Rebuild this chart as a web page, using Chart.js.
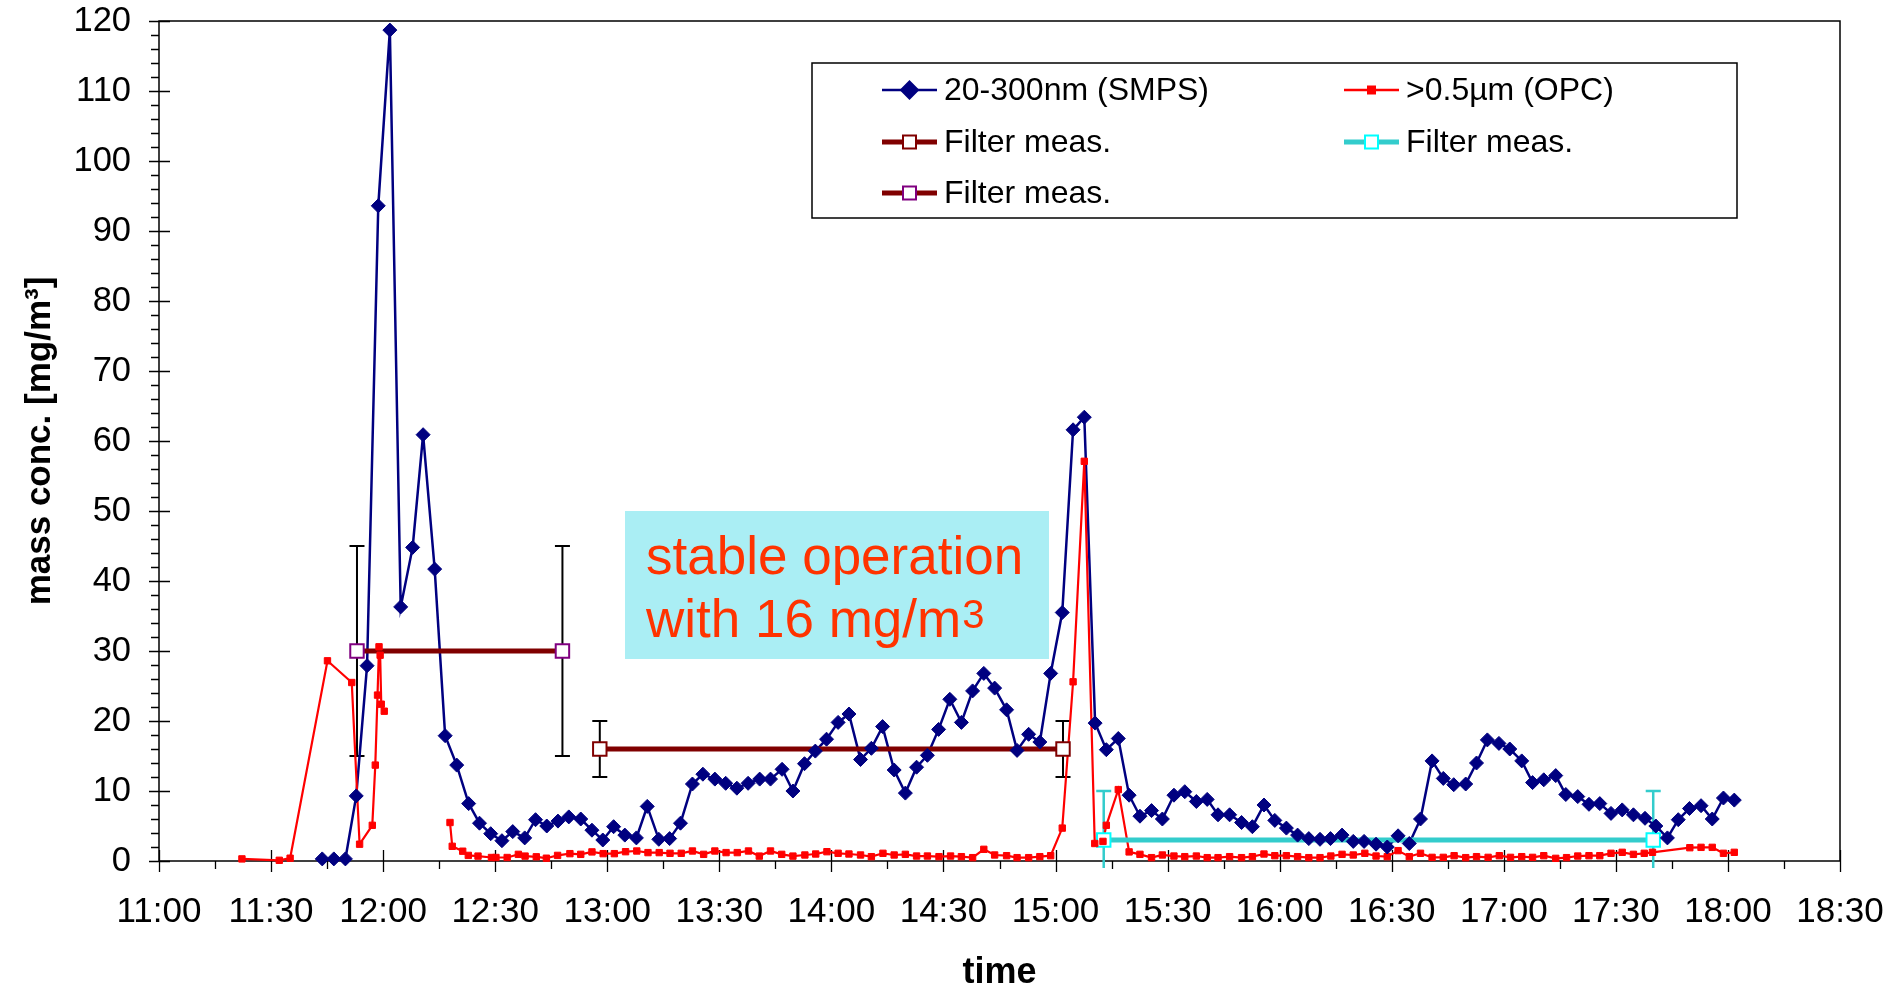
<!DOCTYPE html>
<html>
<head>
<meta charset="utf-8">
<script src="https://cdn.jsdelivr.net/npm/chart.js@4.4.0/dist/chart.umd.min.js"></script>
<style>
html,body{margin:0;padding:0;background:#fff;}
#wrap{width:1895px;height:991px;position:relative;}
</style>
</head>
<body>
<div id="wrap"><canvas id="c" width="1895" height="991"></canvas></div>
<script>
// ---------- data (times in minutes since midnight) ----------
const xTickLabels = ['11:00','11:30','12:00','12:30','13:00','13:30','14:00','14:30','15:00','15:30','16:00','16:30','17:00','17:30','18:00','18:30'];
const yTickLabels = ['0','10','20','30','40','50','60','70','80','90','100','110','120'];
const seriesLabels = ['20-300nm (SMPS)', '>0.5µm (OPC)', 'Filter meas.', 'Filter meas.', 'Filter meas.'];

const smpsTimes = [
  703.7,706.8,709.9,712.8,715.7,718.7,721.8,724.7,727.9,730.7,
  733.8,736.6,739.7,742.9,745.8,748.8,751.8,754.7,757.9,760.8,
  763.8,766.8,769.7,772.9,775.9,778.8,781.7,784.7,787.8,790.7,
  793.8,796.7,799.6,802.8,805.6,808.8,811.7,814.7,817.7,820.8,
  823.7,826.8,829.7,832.8,835.7,838.7,841.8,844.7,847.8,850.7,
  853.7,856.8,859.8,862.8,865.7,868.7,871.7,874.8,877.8,880.8,
  883.7,886.9,889.7,892.8,895.8,898.7,901.8,904.7,907.7,910.6,
  913.6,916.8,919.7,922.6,925.7,928.6,931.7,934.6,937.7,940.6,
  943.5,946.6,949.8,952.7,955.8,958.7,961.8,964.8,967.8,970.8,
  973.6,976.7,979.7,982.6,985.8,988.8,991.7,994.7,997.7,1000.8,
  1003.8,1006.6,1009.8,1012.7,1015.6,1018.7,1021.6,1024.8,1027.7,1030.7,
  1033.9,1036.6,1039.8,1042.8,1045.7,1048.7,1051.7,1054.7,1057.8,1060.7,
  1063.8,1066.7,1069.7,1072.8,1075.8,1078.8,1081.7
];
const smpsValues = [
  0.3,0.3,0.3,9.3,27.9,93.6,118.7,36.3,44.8,60.9,
  41.7,17.9,13.7,8.2,5.4,3.9,2.9,4.2,3.3,5.9,
  5.0,5.7,6.3,6.0,4.4,3.0,4.9,3.7,3.3,7.8,
  3.1,3.2,5.4,11.0,12.4,11.7,11.1,10.4,11.1,11.7,
  11.7,13.1,10.0,13.9,15.7,17.4,19.8,21.0,14.5,16.1,
  19.2,13.0,9.7,13.4,15.1,18.8,23.1,19.8,24.3,26.8,
  24.7,21.6,15.8,18.1,17.0,26.8,35.5,61.6,63.4,19.7,
  15.9,17.5,9.4,6.4,7.2,6.0,9.4,9.9,8.5,8.8,
  6.6,6.6,5.5,4.9,8.0,5.8,4.7,3.7,3.2,3.1,
  3.2,3.7,2.8,2.8,2.4,2.0,3.6,2.5,6.0,14.3,
  11.8,10.9,11.0,14.0,17.3,16.8,16.0,14.3,11.2,11.6,
  12.2,9.5,9.2,8.1,8.2,6.8,7.3,6.6,6.1,5.0,
  3.3,5.9,7.5,7.9,6.0,9.0,8.7
];

const opcTimes = [
  682.2,692.2,695.1,705.1,711.6,713.7,717.1,717.9,718.5,718.9,719.2,719.5,720.3,
  729.0,
  737.9,738.5,741.3,742.8,745.4,749.0,750.2,753.2,756.2,758.0,
  761.0,763.7,766.7,770.0,772.9,775.9,778.9,781.9,784.9,787.9,
  790.9,793.9,796.8,799.8,802.8,805.8,808.8,811.8,814.8,817.8,
  820.7,823.7,826.7,829.7,
  832.9,835.8,838.8,841.8,844.7,847.8,850.7,853.8,856.8,859.8,
  862.8,865.7,868.8,871.9,874.8,877.8,880.8,883.7,886.9,889.7,
  892.8,895.8,898.7,901.8,904.7,907.7,910.5,912.7,913.6,916.8,
  919.7,922.6,925.7,928.6,931.7,934.6,937.7,940.6,943.5,946.6,
  949.8,952.7,955.8,958.7,961.8,964.8,967.8,
  970.8,973.7,976.7,979.7,982.8,985.8,988.8,991.7,994.7,997.7,
  1000.8,1003.8,1006.7,1009.8,1012.7,1015.8,1018.8,1021.8,1024.8,1027.7,
  1030.7,1033.9,1036.8,1039.8,1042.8,1045.7,1048.7,1051.7,1054.7,1057.6,
  1059.8,1069.8,1072.8,1075.8,1078.8,1081.7
];
const opcValues = [
  0.3,0.1,0.4,28.6,25.5,2.4,5.1,13.7,23.7,30.6,29.4,22.4,21.4,
  null,
  5.5,2.1,1.4,0.8,0.7,0.5,0.5,0.5,0.95,0.7,
  0.6,0.4,0.8,1.05,0.95,1.3,1.05,1.05,1.33,1.43,
  1.2,1.2,1.1,1.1,1.43,0.95,1.43,1.2,1.2,1.43,
  0.7,1.43,0.95,0.7,
  0.86,1.0,1.33,1.1,1.0,0.86,0.62,1.1,0.86,0.95,
  0.71,0.71,0.62,0.71,0.62,0.48,1.67,0.86,0.76,0.48,
  0.48,0.62,0.76,4.7,25.6,57.1,2.5,2.8,5.1,10.2,
  1.3,0.95,0.48,0.86,0.71,0.62,0.71,0.48,0.48,0.62,
  0.48,0.62,1.0,0.76,0.76,0.62,0.48,
  0.48,0.71,0.95,0.86,1.1,0.71,0.62,1.48,0.62,1.1,
  0.52,0.52,0.76,0.48,0.62,0.52,0.76,0.52,0.62,0.52,
  0.76,0.38,0.48,0.71,0.76,0.76,1.1,1.24,0.95,1.1,
  1.24,1.9,1.95,1.95,1.1,1.24
];

// filter measurements: start/end times, mean value, error
const filterATimes = [778, 902];
const filterAValues = [16, 16];
const filterAError = [4, 4];
const filterBTimes = [912.9, 1060];
const filterBValues = [3, 3];
const filterBError = [7, 7];
const filterCTimes = [713, 768];
const filterCValues = [30, 30];
const filterCError = [15, 15];

// ---------- styles ----------
const FONT = "'Liberation Sans', Arial, Helvetica, sans-serif";
const C = {
  smps: '#000080', opc: '#FF0000', maroon: '#800000', purple: '#800080',
  cyanLine: '#33CCCC', cyanMark: '#00FFFF', boxFill: '#AAEEF4', note: '#FF3300'
};
Chart.defaults.font.family = FONT;
Chart.defaults.color = '#000';

const pts = (xs, ys) => xs.map((x, i) => ({x: x, y: ys[i]}));

const framePlugin = {
  id: 'frame',
  beforeDatasetsDraw(chart) {
    const {ctx, chartArea: a, scales: {x, y}} = chart;
    ctx.save();
    ctx.strokeStyle = '#000';
    ctx.lineWidth = 1.5;
    ctx.strokeRect(a.left, a.top, a.right - a.left, a.bottom - a.top);
    ctx.lineWidth = 1.3;
    ctx.beginPath();
    for (let v = 0; v <= 120; v += 2) {
      const py = Math.round(y.getPixelForValue(v)) + 0.5;
      if (v % 10 === 0) { ctx.moveTo(a.left - 10, py); ctx.lineTo(a.left + 11, py); }
      else { ctx.moveTo(a.left - 8, py); ctx.lineTo(a.left, py); }
    }
    for (let t = 660; t <= 1110; t += 15) {
      const px = Math.round(x.getPixelForValue(t)) + 0.5;
      if ((t - 660) % 30 === 0) { ctx.moveTo(px, a.bottom - 11); ctx.lineTo(px, a.bottom + 11); }
      else { ctx.moveTo(px, a.bottom); ctx.lineTo(px, a.bottom + 8); }
    }
    ctx.stroke();
    ctx.restore();
  }
};

const errorBarPlugin = {
  id: 'errorBars',
  beforeDatasetsDraw(chart) {
    const {ctx, chartArea: a, scales: {x, y}} = chart;
    const sets = [
      [filterATimes, filterAValues, filterAError, '#000000', 2],
      [filterBTimes, filterBValues, filterBError, C.cyanLine, 2.5],
      [filterCTimes, filterCValues, filterCError, '#000000', 2]
    ];
    ctx.save();
    const clipBottom = a.bottom + 7;
    sets.forEach(([ts, vs, es, col, lw]) => {
      ctx.strokeStyle = col;
      ctx.lineWidth = lw;
      ts.forEach((t, i) => {
        const px = x.getPixelForValue(t);
        const top = y.getPixelForValue(vs[i] + es[i]);
        const bot = y.getPixelForValue(vs[i] - es[i]);
        const b = Math.min(bot, clipBottom);
        ctx.beginPath();
        ctx.moveTo(px, top); ctx.lineTo(px, b);
        ctx.moveTo(px - 7.5, top); ctx.lineTo(px + 7.5, top);
        if (bot <= clipBottom) { ctx.moveTo(px - 7.5, bot); ctx.lineTo(px + 7.5, bot); }
        ctx.stroke();
      });
    });
    ctx.restore();
  }
};

const notePlugin = {
  id: 'note',
  afterDatasetsDraw(chart) {
    const ctx = chart.ctx;
    ctx.save();
    ctx.fillStyle = C.boxFill;
    ctx.fillRect(625, 511, 424, 148);
    ctx.fillStyle = C.note;
    ctx.textBaseline = 'alphabetic';
    ctx.textAlign = 'left';
    ctx.font = '53px ' + FONT;
    ctx.fillText('stable operation', 646, 574);
    const line2 = 'with 16 mg/m';
    ctx.fillText(line2, 646, 637);
    const w = ctx.measureText(line2).width;
    ctx.font = '40px ' + FONT;
    ctx.fillText('3', 646 + w + 1, 628);
    ctx.restore();
  }
};

const legendPlugin = {
  id: 'customLegend',
  afterDraw(chart) {
    const ctx = chart.ctx;
    ctx.save();
    ctx.fillStyle = '#fff';
    ctx.fillRect(812, 63, 925, 155);
    ctx.strokeStyle = '#000';
    ctx.lineWidth = 1.5;
    ctx.strokeRect(812, 63, 925, 155);
    const colX = [882, 1344];
    const rowY = [90, 142, 193];
    const entries = [
      {c: 0, r: 0, label: seriesLabels[0], line: C.smps, lw: 2.5, mk: 'diamond', mc: C.smps, fill: C.smps, s: 8.5},
      {c: 1, r: 0, label: seriesLabels[1], line: C.opc, lw: 2.5, mk: 'square', mc: C.opc, fill: C.opc, s: 3.5},
      {c: 0, r: 1, label: seriesLabels[2], line: C.maroon, lw: 5, mk: 'square', mc: C.maroon, fill: '#fff', s: 6.5},
      {c: 1, r: 1, label: seriesLabels[3], line: C.cyanLine, lw: 5, mk: 'square', mc: C.cyanMark, fill: '#fff', s: 6.5},
      {c: 0, r: 2, label: seriesLabels[4], line: C.maroon, lw: 5, mk: 'square', mc: C.purple, fill: '#fff', s: 6.5}
    ];
    entries.forEach(e => {
      const x0 = colX[e.c], yy = rowY[e.r], cx = x0 + 27.5;
      ctx.strokeStyle = e.line;
      ctx.lineWidth = e.lw;
      ctx.beginPath(); ctx.moveTo(x0, yy); ctx.lineTo(x0 + 55, yy); ctx.stroke();
      ctx.fillStyle = e.fill;
      ctx.strokeStyle = e.mc;
      ctx.lineWidth = 2;
      ctx.beginPath();
      if (e.mk === 'diamond') {
        ctx.moveTo(cx, yy - e.s); ctx.lineTo(cx + e.s, yy); ctx.lineTo(cx, yy + e.s); ctx.lineTo(cx - e.s, yy); ctx.closePath();
      } else {
        ctx.rect(cx - e.s, yy - e.s, 2 * e.s, 2 * e.s);
      }
      ctx.fill();
      ctx.stroke();
      ctx.fillStyle = '#000';
      ctx.font = '32px ' + FONT;
      ctx.textBaseline = 'middle';
      ctx.textAlign = 'left';
      ctx.fillText(e.label, x0 + 62, yy + 1);
    });
    ctx.restore();
  }
};

const filterStyle = (lineCol, markCol) => ({
  showLine: true, borderColor: lineCol, borderWidth: 5,
  pointStyle: 'rect', pointRadius: 9.5, pointBorderColor: markCol, pointBorderWidth: 2,
  pointBackgroundColor: '#fff', clip: false
});

new Chart(document.getElementById('c'), {
  type: 'scatter',
  data: {
    datasets: [
      {label: seriesLabels[0], data: pts(smpsTimes, smpsValues), showLine: false,
       pointStyle: 'rectRot', pointRadius: 7, pointBackgroundColor: C.smps, pointBorderColor: C.smps, pointBorderWidth: 1, clip: false},
      {label: seriesLabels[1], data: pts(opcTimes, opcValues), showLine: false,
       pointStyle: 'rect', pointRadius: 4.5, pointBackgroundColor: C.opc, pointBorderColor: C.opc, pointBorderWidth: 1, clip: false},
      Object.assign({label: seriesLabels[2], data: pts(filterATimes, filterAValues)}, filterStyle(C.maroon, C.maroon)),
      Object.assign({label: seriesLabels[3], data: pts(filterBTimes, filterBValues)}, filterStyle(C.cyanLine, C.cyanMark)),
      Object.assign({label: seriesLabels[4], data: pts(filterCTimes, filterCValues)}, filterStyle(C.maroon, C.purple)),
      {label: seriesLabels[1] + ' line', data: pts(opcTimes, opcValues), showLine: true, spanGaps: false,
       borderColor: C.opc, borderWidth: 2.2, pointRadius: 0, clip: false},
      {label: seriesLabels[0] + ' line', data: pts(smpsTimes, smpsValues), showLine: true,
       borderColor: C.smps, borderWidth: 2.5, pointRadius: 0, clip: false}
    ]
  },
  options: {
    responsive: false,
    animation: false,
    events: [],
    devicePixelRatio: 1,
    layout: {padding: {top: 21, right: 55, left: 0, bottom: 0}},
    plugins: {legend: {display: false}, tooltip: {enabled: false}},
    scales: {
      x: {
        type: 'linear', position: 'bottom', min: 660, max: 1110,
        afterFit: s => { s.height = 130; s.paddingLeft = 0; s.paddingRight = 0; },
        grid: {display: false, drawTicks: false},
        border: {display: false},
        ticks: {
          stepSize: 30, padding: 30, autoSkip: false, maxRotation: 0, color: '#000',
          font: {size: 35},
          callback: v => xTickLabels[Math.round((v - 660) / 30)]
        },
        title: {display: true, text: 'time', color: '#000',
          font: {size: 36, weight: 'bold', lineHeight: 1}, padding: {top: 0, bottom: 0}}
      },
      y: {
        type: 'linear', min: 0, max: 120,
        afterFit: s => { s.width = 159; s.paddingTop = 0; s.paddingBottom = 0; },
        grid: {display: false, drawTicks: false},
        border: {display: false},
        ticks: {
          stepSize: 10, padding: 28, color: '#000', font: {size: 34.5},
          callback: v => yTickLabels[Math.round(v / 10)]
        },
        title: {display: true, text: 'mass conc. [mg/m³]', color: '#000',
          font: {size: 35, weight: 'bold', lineHeight: 1}, padding: {top: 23, bottom: 0}}
      }
    }
  },
  plugins: [framePlugin, errorBarPlugin, notePlugin, legendPlugin]
});
</script>
</body>
</html>
